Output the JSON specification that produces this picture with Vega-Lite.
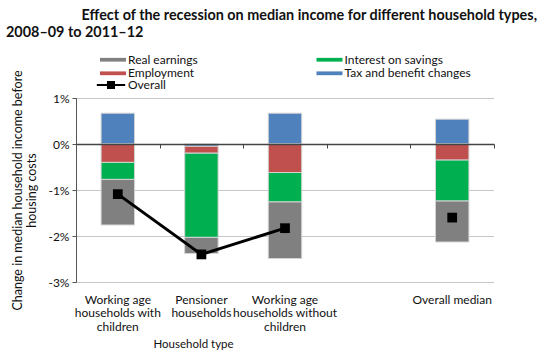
{
  "$schema": "https://vega.github.io/schema/vega-lite/v6.json",
  "width": 418,
  "height": 184,
  "autosize": {"type": "none"},
  "padding": {"left": 76, "top": 98, "right": 65, "bottom": 73},
  "background": "white",
  "config": {"font": "Lato", "view": {"stroke": null}},
  "title": {
    "text": ["\u200b\u2003\u2003\u2003\u2003\u2003\u2003\u2003Effect of the recession on median income for different household types,", "2008–09 to 2011–12"],
    "anchor": "start",
    "frame": "group",
    "dx": -70,
    "fontSize": 14.4,
    "fontWeight": "bold",
    "font": "Lato",
    "color": "#111111",
    "lineHeight": 16.7,
    "offset": 13
  },
  "datasets": {
    "components": [
      {"household": "Working age households with children", "component": "Tax and benefit changes", "value": 0.67},
      {"household": "Working age households with children", "component": "Employment", "value": -0.40},
      {"household": "Working age households with children", "component": "Interest on savings", "value": -0.37},
      {"household": "Working age households with children", "component": "Real earnings", "value": -0.99},
      {"household": "Pensioner households", "component": "Tax and benefit changes", "value": -0.05},
      {"household": "Pensioner households", "component": "Employment", "value": -0.15},
      {"household": "Pensioner households", "component": "Interest on savings", "value": -1.83},
      {"household": "Pensioner households", "component": "Real earnings", "value": -0.35},
      {"household": "Working age households without children", "component": "Tax and benefit changes", "value": 0.67},
      {"household": "Working age households without children", "component": "Employment", "value": -0.62},
      {"household": "Working age households without children", "component": "Interest on savings", "value": -0.64},
      {"household": "Working age households without children", "component": "Real earnings", "value": -1.23},
      {"household": "Overall median", "component": "Tax and benefit changes", "value": 0.54},
      {"household": "Overall median", "component": "Employment", "value": -0.35},
      {"household": "Overall median", "component": "Interest on savings", "value": -0.89},
      {"household": "Overall median", "component": "Real earnings", "value": -0.89}
    ],
    "overall": [
      {"household": "Working age households with children", "series": "Overall", "group": "households", "value": -1.09},
      {"household": "Pensioner households", "series": "Overall", "group": "households", "value": -2.40},
      {"household": "Working age households without children", "series": "Overall", "group": "households", "value": -1.83},
      {"household": "Overall median", "series": "Overall", "group": "median", "value": -1.60}
    ]
  },
  "layer": [
    {
      "data": {"name": "components"},
      "transform": [
        {"calculate": "indexof(['Tax and benefit changes','Employment','Interest on savings','Real earnings'], datum.component)", "as": "stackOrder"}
      ],
      "mark": {"type": "bar", "stroke": "#d4d4d4", "strokeWidth": 1},
      "encoding": {
        "x": {
          "field": "household",
          "type": "nominal",
          "sort": null,
          "scale": {
            "domain": ["Working age households with children", "Pensioner households", "Working age households without children", "gap", "Overall median"],
            "paddingInner": 0.6,
            "paddingOuter": 0.3
          },
          "axis": {
            "orient": "bottom",
            "title": "Household type",
            "titleFontSize": 11.5,
            "titleFontWeight": "normal",
            "titleColor": "#111111",
            "titleX": 117,
            "titleAnchor": "middle",
            "titlePadding": 6,
            "labelAngle": 0,
            "labelFontSize": 12,
            "labelColor": "#111111",
            "labelLineHeight": 13.7,
            "labelPadding": 12,
            "labelExpr": "datum.value == 'Working age households with children' ? ['Working age', 'households with', 'children'] : datum.value == 'Pensioner households' ? ['Pensioner', 'households'] : datum.value == 'Working age households without children' ? ['Working age', 'households without', 'children'] : datum.value == 'gap' ? '' : datum.value",
            "ticks": false,
            "domain": false,
            "grid": false
          }
        },
        "y": {
          "field": "value",
          "type": "quantitative",
          "stack": "zero",
          "scale": {"domain": [-3, 1], "nice": false},
          "axis": {
            "values": [-3, -2, -1, 0, 1],
            "labelExpr": "datum.value + '%'",
            "labelFontSize": 12,
            "labelColor": "#111111",
            "labelPadding": 3,
            "tickSize": 4,
            "tickColor": "#555555",
            "domainColor": "#555555",
            "gridColor": "#8c8c8c",
            "gridDash": [1, 1],
            "title": ["Change in median household income before", "housing costs"],
            "titleFontSize": 12.5,
            "titleFontWeight": "normal",
            "titleColor": "#111111",
            "titlePadding": 9,
            "titleLineHeight": 14
          }
        },
        "color": {
          "field": "component",
          "type": "nominal",
          "scale": {
            "domain": ["Real earnings", "Employment", "Interest on savings", "Tax and benefit changes"],
            "range": ["#808080", "#C0504D", "#00B050", "#4F81BD"]
          },
          "legend": {
            "orient": "none",
            "legendX": 30.5,
            "legendY": -45,
            "columns": 2,
            "columnPadding": 117.5,
            "rowPadding": 0.8,
            "title": null,
            "symbolType": "M-2,-0.29H2V0.29H-2Z",
            "symbolSize": 169,
            "symbolStrokeWidth": 0,
            "labelOffset": 8.5,
            "labelFontSize": 12,
            "labelColor": "#111111"
          }
        },
        "order": {"field": "stackOrder", "type": "quantitative"}
      }
    },
    {
      "data": {"name": "overall"},
      "mark": {"type": "line", "color": "black", "strokeWidth": 3},
      "encoding": {
        "x": {"field": "household", "type": "nominal", "sort": null, "axis": null},
        "y": {"field": "value", "type": "quantitative"},
        "detail": {"field": "group"},
        "color": {
          "field": "series",
          "type": "nominal",
          "scale": {"domain": ["Overall"], "range": ["black"]},
          "legend": {
            "orient": "none",
            "legendX": 28.5,
            "legendY": -19.5,
            "title": null,
            "symbolType": "M-2.18,-0.16H2.18V0.16H-2.18Z M-0.62,-0.62H0.62V0.62H-0.62Z",
            "symbolSize": 169,
            "symbolStrokeWidth": 0,
            "symbolFillColor": "black",
            "symbolStrokeColor": "black",
            "symbolOpacity": 1,
            "labelOffset": 10.5,
            "labelFontSize": 12,
            "labelColor": "#111111"
          }
        }
      }
    },
    {
      "data": {"name": "overall"},
      "mark": {"type": "point", "shape": "square", "filled": true, "color": "black", "size": 95, "opacity": 1},
      "encoding": {
        "x": {
          "field": "household",
          "type": "nominal",
          "sort": null,
          "axis": {
            "orient": "bottom",
            "offset": -138,
            "labels": false,
            "title": null,
            "ticks": true,
            "tickSize": 4,
            "tickOffset": 41.8,
            "tickColor": "#444444",
            "domain": true,
            "domainColor": "#444444",
            "domainWidth": 1.5,
            "grid": false,
            "zindex": 1
          }
        },
        "y": {"field": "value", "type": "quantitative"}
      }
    }
  ],
  "resolve": {"scale": {"color": "independent"}, "axis": {"x": "independent"}}
}
